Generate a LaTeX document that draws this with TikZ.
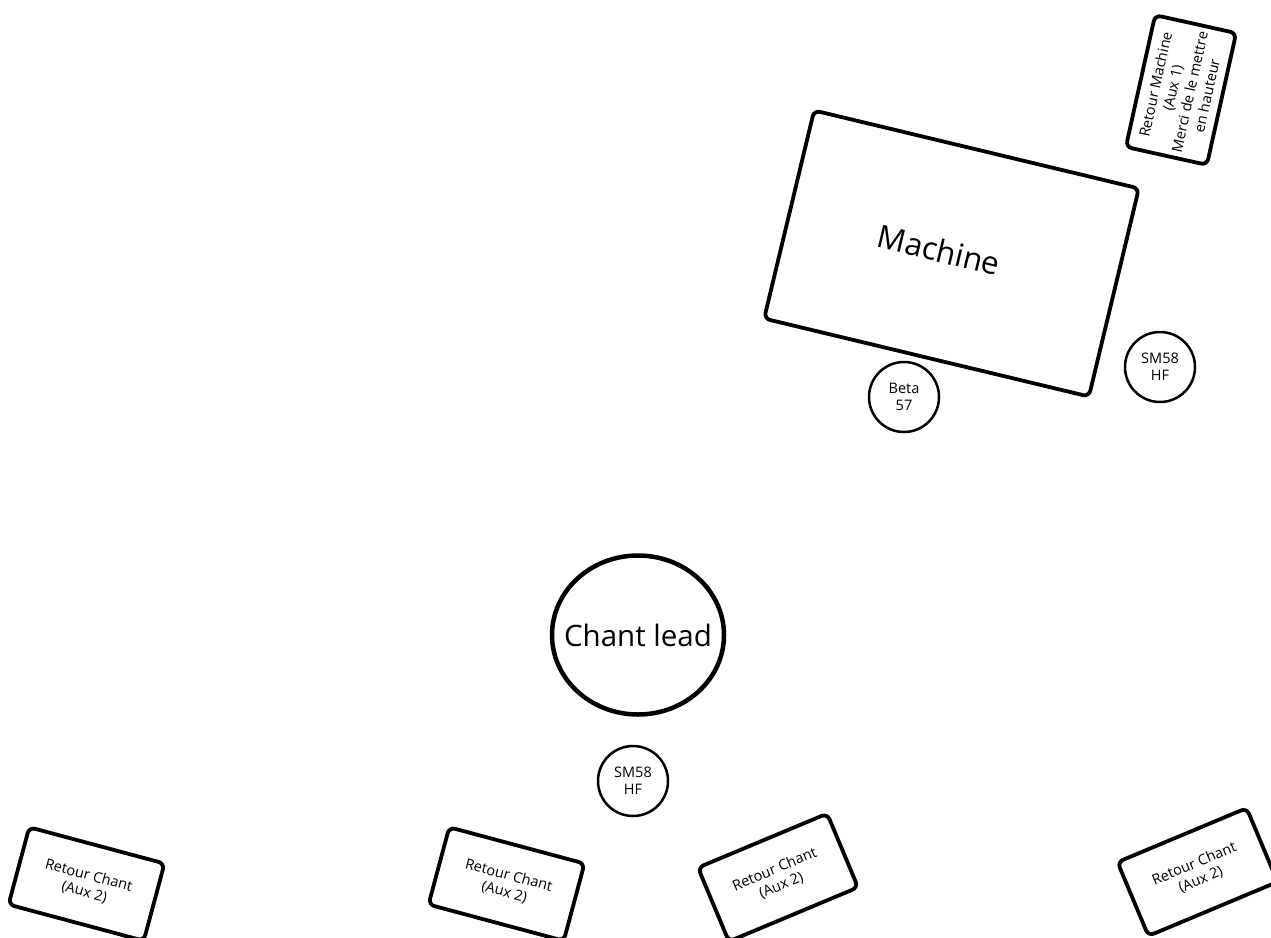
\documentclass[tikz,border=0pt]{standalone}
\usepackage{fontspec}
\setmainfont{Open Sans}
\usetikzlibrary{shapes.geometric}
\begin{document}
\begin{tikzpicture}[x=1pt,y=-1pt,
  box/.style={draw, line width=3.8pt, rounded corners=6pt, align=center, inner sep=0pt},
  retour/.style={box, minimum width=140pt, minimum height=80pt, font=\fontsize{14.5}{17}\selectfont},
  mic/.style={draw, circle, line width=2.5pt, minimum size=70pt, inner sep=0pt, align=center, font=\fontsize{14.5}{17}\selectfont}]
\useasboundingbox (0,0) rectangle (1271,937);
\node[box, minimum width=334pt, minimum height=214pt, rotate=-13.5] (machine) at (951.5,253.5) {};
\node[rotate=-13.5, font=\fontsize{31.5}{34}\selectfont, inner sep=0pt] (machinelabel) at (939,250) {Machine};
\node[box, minimum width=135pt, minimum height=83pt, rotate=77.5, font=\fontsize{14.5}{17.5}\selectfont] (retmachine) at (1181,90) {Retour Machine\\(Aux 1)\\Merci de le mettre\\en hauteur};
\node[mic] (sm58a) at (1160,367) {SM58\\HF};
\node[mic] (beta) at (904,397) {Beta\\57};
\node[draw, ellipse, line width=4.5pt, minimum width=172pt, minimum height=159pt, inner sep=0pt] (lead) at (638,635) {};
\node[font=\fontsize{29.5}{32}\selectfont, inner sep=0pt] (leadlabel) at (lead.center) {Chant lead};
\node[mic] (sm58b) at (633,781) {SM58\\HF};
\node[retour, rotate=-15] (r1) at (86.5,884) {Retour Chant\\(Aux 2)};
\node[retour, rotate=-15] (r2) at (506.5,884) {Retour Chant\\(Aux 2)};
\node[retour, rotate=22.7] (r3) at (778,877.5) {Retour Chant\\(Aux 2)};
\node[retour, rotate=22.7] (r4) at (1197.5,872) {Retour Chant\\(Aux 2)};
\end{tikzpicture}
\end{document}
